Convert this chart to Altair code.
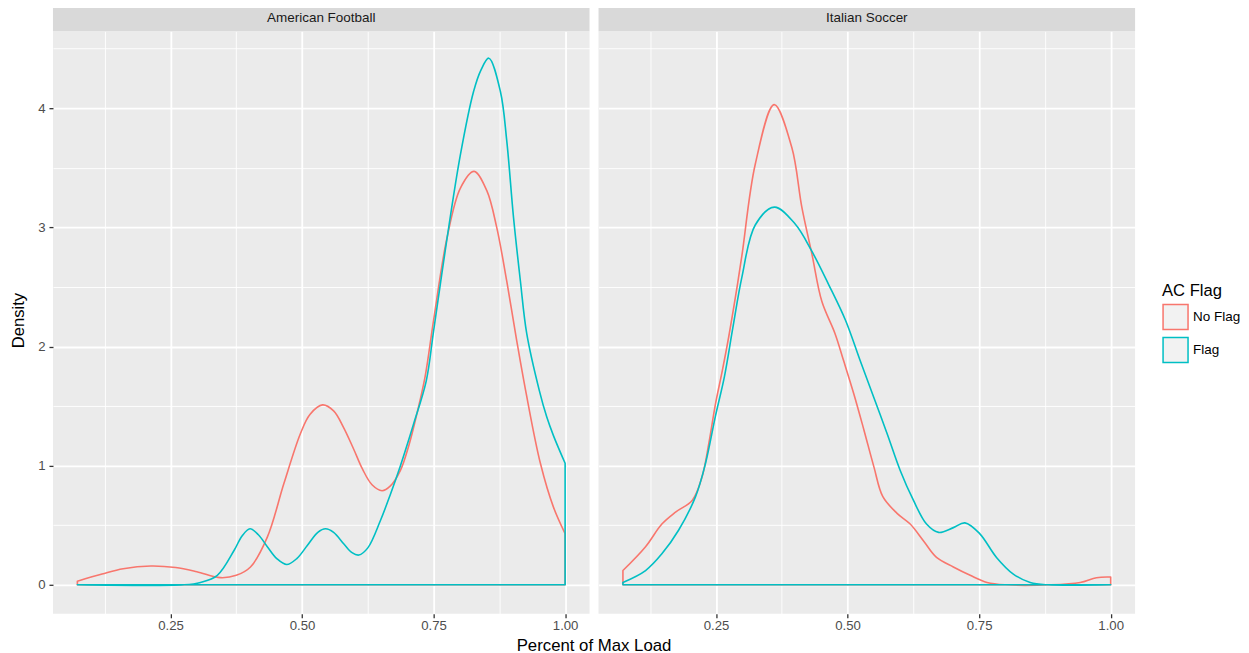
import altair as alt
import pandas as pd

sports = ["American Football", "Italian Soccer"]
flags = ["No Flag", "Flag"]
colors = ["#F8766D", "#00BFC4"]

# American Football, No Flag
af_noflag_x = [0.073, 0.12, 0.16, 0.2125, 0.26, 0.30, 0.345, 0.375, 0.402, 0.434, 0.4655, 0.497,
               0.515, 0.539, 0.56, 0.579, 0.598, 0.615, 0.633, 0.652, 0.668, 0.687, 0.703, 0.718,
               0.734, 0.750, 0.775, 0.801, 0.827, 0.851, 0.870, 0.889, 0.908, 0.925, 0.953, 0.978, 1.0]
af_noflag_y = [0.03, 0.09, 0.135, 0.158, 0.145, 0.11, 0.06, 0.08, 0.15, 0.40, 0.85, 1.27,
               1.43, 1.51, 1.46, 1.32, 1.14, 0.97, 0.84, 0.79, 0.83, 0.96, 1.17, 1.43,
               1.75, 2.22, 2.90, 3.33, 3.47, 3.31, 3.0, 2.55, 2.05, 1.63, 1.02, 0.65, 0.43]
# American Football, Flag
af_flag_x = [0.073, 0.276, 0.307, 0.339, 0.371, 0.386, 0.401, 0.417, 0.434, 0.452, 0.471, 0.49,
             0.51, 0.53, 0.5446, 0.56, 0.58, 0.595, 0.608, 0.625, 0.649, 0.668, 0.687, 0.712,
             0.736, 0.750, 0.775, 0.801, 0.826, 0.84, 0.855, 0.877, 0.889, 0.902, 0.915, 0.927,
             0.951, 0.965, 0.978, 1.0]
af_flag_y = [0.0, 0.0, 0.02, 0.08, 0.29, 0.41, 0.47, 0.42, 0.32, 0.22, 0.17, 0.22,
             0.33, 0.44, 0.47, 0.44, 0.34, 0.27, 0.25, 0.31, 0.54, 0.76, 1.0, 1.35,
             1.71, 2.13, 2.89, 3.61, 4.14, 4.32, 4.42, 4.14, 3.73, 3.08, 2.55, 2.11,
             1.63, 1.41, 1.25, 1.02]
# Italian Soccer, No Flag
is_noflag_x = [0.073, 0.116, 0.147, 0.173, 0.205, 0.223, 0.236, 0.249, 0.262, 0.274, 0.287, 0.299,
               0.3245, 0.3605, 0.394, 0.413, 0.432, 0.451, 0.476, 0.4925, 0.512, 0.531, 0.550, 0.567,
               0.594, 0.619, 0.644, 0.669, 0.701, 0.733, 0.765, 0.80, 0.885, 0.942, 0.973, 1.0]
is_noflag_y = [0.12, 0.32, 0.51, 0.61, 0.71, 0.90, 1.18, 1.52, 1.80, 2.08, 2.42, 2.76,
               3.53, 4.03, 3.67, 3.17, 2.78, 2.38, 2.11, 1.88, 1.60, 1.30, 0.99, 0.74,
               0.60, 0.51, 0.37, 0.23, 0.15, 0.08, 0.02, 0.0, 0.0, 0.02, 0.06, 0.065]
# Italian Soccer, Flag
is_flag_x = [0.073, 0.116, 0.147, 0.179, 0.211, 0.230, 0.249, 0.266, 0.282, 0.299, 0.3245, 0.361,
             0.400, 0.432, 0.464, 0.496, 0.524, 0.550, 0.575, 0.600, 0.625, 0.650, 0.673, 0.701,
             0.723, 0.751, 0.783, 0.815, 0.847, 0.88, 1.0]
is_flag_y = [0.02, 0.12, 0.26, 0.46, 0.74, 1.02, 1.42, 1.75, 2.16, 2.58, 3.02, 3.17,
             3.03, 2.80, 2.52, 2.22, 1.88, 1.57, 1.27, 0.96, 0.71, 0.51, 0.44, 0.48,
             0.52, 0.43, 0.23, 0.09, 0.02, 0.0, 0.0]

x_ticks = [0.125, 0.25, 0.375, 0.5, 0.625, 0.75, 0.875, 1.0]
y_ticks = [0, 0.5, 1, 1.5, 2, 2.5, 3, 3.5, 4, 4.5]

series = [
    (sports[0], flags[0], af_noflag_x, af_noflag_y),
    (sports[0], flags[1], af_flag_x, af_flag_y),
    (sports[1], flags[0], is_noflag_x, is_noflag_y),
    (sports[1], flags[1], is_flag_x, is_flag_y),
]
rows = []
for sport, flag, xs, ys in series:
    for xv, yv in zip(xs, ys):
        rows.append({"sport": sport, "flag": flag, "x": xv, "y": yv})
df = pd.DataFrame(rows)

W, H = 537, 583
FONT = "Liberation Sans"
major_x = "abs(datum.value*4 - round(datum.value*4)) < 0.001"
major_y = "abs(datum.value - round(datum.value)) < 0.001"

legend = alt.Legend(
    orient="none", legendX=1110, legendY=252, title="AC Flag",
    symbolType="square", symbolSize=625, symbolStrokeWidth=1.5,
    symbolFillColor="#F2F2F2", symbolOpacity=1, labelFontSize=13.5, titleFontSize=16.6,
    titleFontWeight="normal", labelFont=FONT, titleFont=FONT, rowPadding=2,
    labelOffset=4, titlePadding=4, labelColor="black", titleColor="black",
)


def panel(sport, first):
    d = df[df.sport == sport]
    xaxis = alt.Axis(
        values=x_ticks, labelExpr=major_x + " ? format(datum.value, '.2f') : ''",
        gridColor="white",
        gridWidth={"condition": {"test": major_x, "value": 1.8}, "value": 0.9},
        tickOpacity={"condition": {"test": major_x, "value": 1}, "value": 0},
        tickColor="#333333", tickSize=4, tickWidth=1.3, domain=False,
        labelFont=FONT, labelFontSize=13.2, labelColor="#4D4D4D", labelPadding=2,
        title="Percent of Max Load" if first else None,
        titleFont=FONT, titleFontSize=16.8, titleFontWeight="normal", titleColor="black",
        titleX=541, titleY=37, titleBaseline="alphabetic",
    )
    if first:
        yaxis = alt.Axis(
            values=y_ticks, labelExpr=major_y + " ? format(datum.value, 'd') : ''",
            gridColor="white",
            gridWidth={"condition": {"test": major_y, "value": 1.8}, "value": 0.9},
            tickOpacity={"condition": {"test": major_y, "value": 1}, "value": 0},
            tickColor="#333333", tickSize=4, tickWidth=1.3, domain=False,
            labelFont=FONT, labelFontSize=13.2, labelColor="#4D4D4D", labelPadding=4,
            title="Density", titleFont=FONT, titleFontSize=16.6, titleFontWeight="normal",
            titleColor="black", titleX=-34, titleY=289, titleBaseline="middle",
        )
    else:
        yaxis = alt.Axis(
            values=y_ticks, labels=False, ticks=False, domain=False, title=None,
            gridColor="white",
            gridWidth={"condition": {"test": major_y, "value": 1.8}, "value": 0.9},
        )
    area = alt.Chart(d).mark_area(
        interpolate="catmull-rom", fill="#F2F2F2", fillOpacity=0, strokeWidth=1.6, strokeJoin="round"
    ).encode(
        x=alt.X("x:Q", scale=alt.Scale(domain=[0.0266, 1.0464], nice=False, zero=False), axis=xaxis),
        y=alt.Y("y:Q", stack=None, scale=alt.Scale(domain=[-0.243, 4.646], nice=False, zero=False), axis=yaxis),
        stroke=alt.Stroke("flag:N", scale=alt.Scale(domain=flags, range=colors), legend=legend),
    )
    strip_df = pd.DataFrame({"sport": [sport]})
    rect = alt.Chart(strip_df).mark_rect(color="#D9D9D9").encode(
        x=alt.value(0), x2=alt.value(W), y=alt.value(-26), y2=alt.value(0)
    )
    text = alt.Chart(strip_df).mark_text(
        font=FONT, fontSize=13.5, color="#1A1A1A", baseline="middle", align="center"
    ).encode(x=alt.value(W / 2), y=alt.value(-13), text="sport:N")
    return alt.layer(rect, text, area).properties(width=W, height=H)


chart = alt.hconcat(
    panel(sports[0], True), panel(sports[1], False), spacing=9, bounds="flush"
).configure_view(
    fill="#EBEBEB", strokeWidth=0
).properties(
    padding={"left": 3, "top": -3, "right": 0, "bottom": 0}, background="white"
)

chart.save("out.html", embed_options={"renderer": "svg", "actions": False})
